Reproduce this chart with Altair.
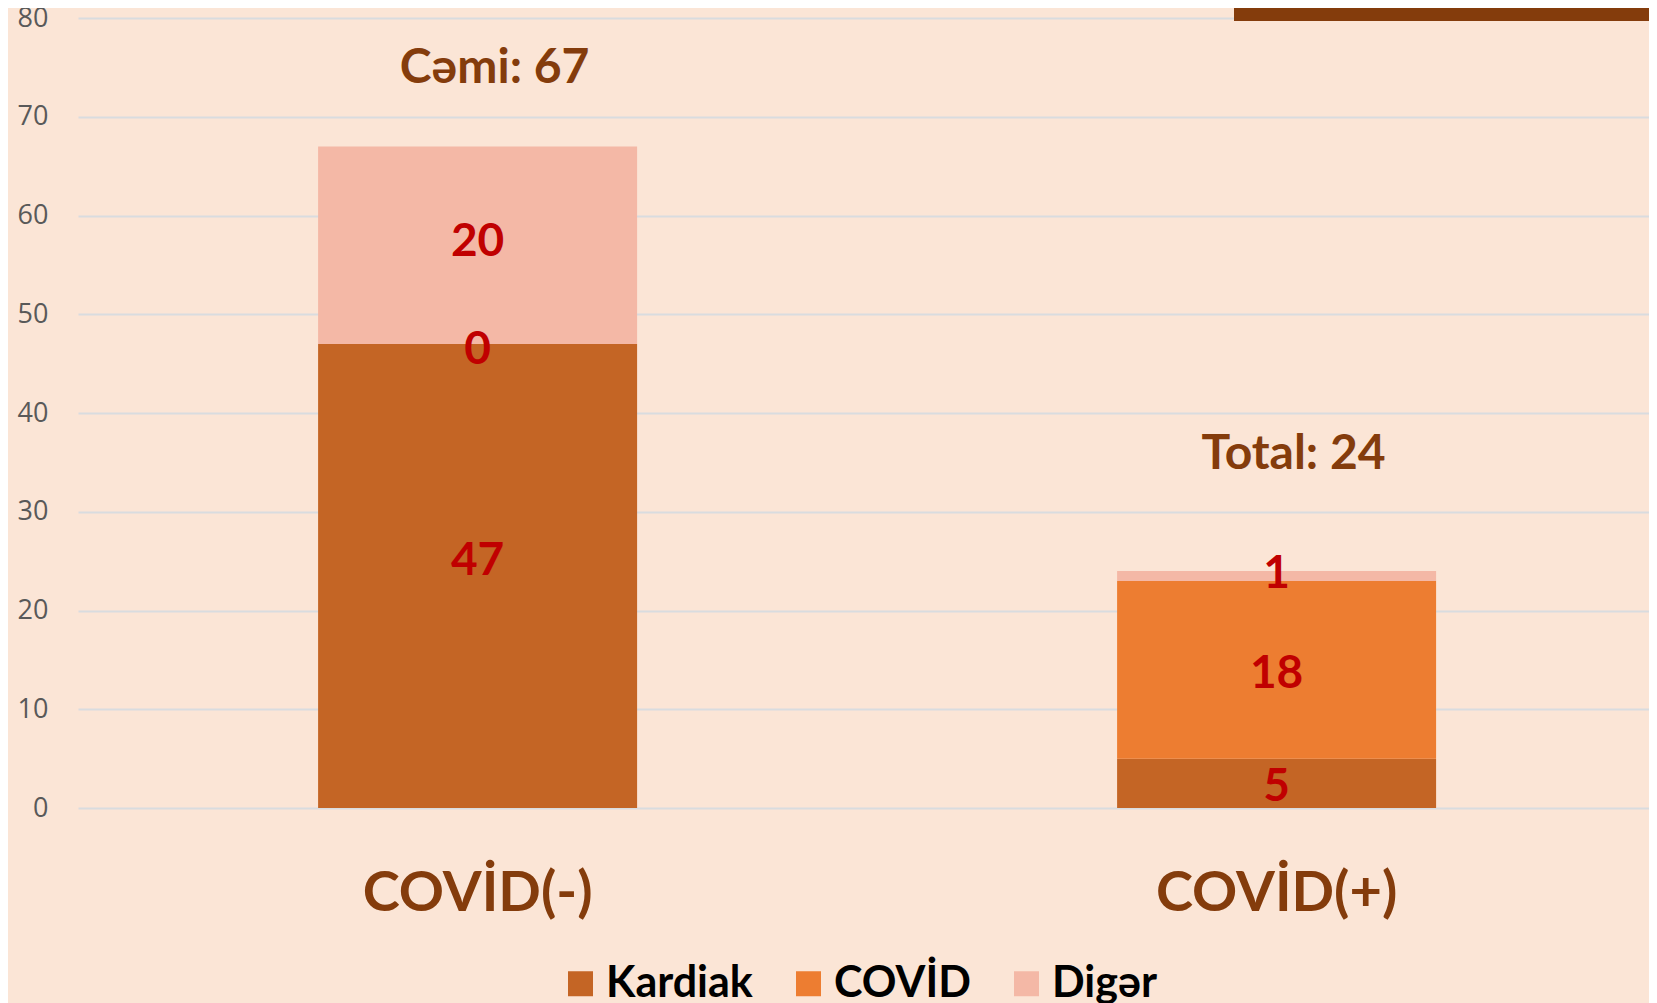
import altair as alt
import pandas as pd

categories = ["COVİD(-)", "COVİD(+)"]
series = ["Kardiak", "COVİD", "Digər"]
kardiak = [47, 5]
covid = [0, 18]
diger = [20, 1]
# label anchors (value units)
kardiak_label_y = [25.3, 2.4]
covid_label_y = [46.7, 13.9]
diger_label_y = [57.6, 24.0]
total_labels = ["Cəmi: 67", "Total: 24"]
total_label_y = [75.1, 36.1]

colors = ["#C46525", "#ED7D31", "#F4B8A6"]

rows = []
for i, c in enumerate(categories):
    for k, (s, vals, ly) in enumerate(zip(series, [kardiak, covid, diger],
                                           [kardiak_label_y, covid_label_y, diger_label_y])):
        v = vals[i]
        rows.append({"cat": c, "series": s, "value": v, "order": k,
                     "mid": ly[i], "label": str(v)})
df = pd.DataFrame(rows)
tot = pd.DataFrame({"cat": categories, "label": total_labels, "y": total_label_y})

xscale = alt.Scale(domain=categories, paddingInner=0.601, paddingOuter=0.2836, align=0.53)
yscale = alt.Scale(domain=[0, 80])

bars = alt.Chart(df).mark_bar(size=319).encode(
    x=alt.X("cat:N", scale=xscale, sort=categories,
            axis=alt.Axis(title=None, labelAngle=0, labelFont="Lato", labelFontSize=56,
                          labelFontWeight="bold", labelColor="#843C0C", ticks=False,
                          tickSize=0, domain=False, labelBaseline="alphabetic",
                          labelPadding=102, grid=False, labelLimit=0)),
    y=alt.Y("value:Q", stack="zero", scale=yscale,
            axis=alt.Axis(title=None, values=list(range(0, 81, 10)), labelFont="Open Sans",
                          labelFontSize=27, labelColor="#595959", ticks=False, tickSize=0,
                          domain=False, gridColor="#D9DCDF", gridWidth=2, labelPadding=30,
                          minExtent=70, maxExtent=70)),
    color=alt.Color("series:N", scale=alt.Scale(domain=series, range=colors),
                    legend=alt.Legend(title=None, orient="none", direction="horizontal",
                                      legendX=481, legendY=944, symbolType="square",
                                      symbolSize=625, symbolStrokeWidth=0, labelFont="Lato",
                                      labelFontSize=43, labelFontWeight="bold",
                                      labelColor="#000000", columnPadding=34,
                                      labelOffset=4, symbolOpacity=1, labelLimit=0)),
    order=alt.Order("order:Q"),
)

seg_text = alt.Chart(df).mark_text(font="Lato", fontSize=46, fontWeight="bold",
                                   color="#C00000", baseline="middle", dy=3).encode(
    x=alt.X("cat:N", scale=xscale, sort=categories),
    y=alt.Y("mid:Q", scale=yscale),
    text="label:N",
)

tot_text = alt.Chart(tot).mark_text(font="Lato", fontSize=48, fontWeight="bold",
                                    color="#843C0C", baseline="middle", dx=17, dy=3).encode(
    x=alt.X("cat:N", scale=xscale, sort=categories),
    y=alt.Y("y:Q", scale=yscale),
    text="label:N",
)

corner = alt.Chart(tot).mark_rect(color="#843C0C").encode(
    x=alt.value(1156), x2=alt.value(1571), y=alt.value(-10), y2=alt.value(3)
)

chart = alt.layer(bars, seg_text, tot_text, corner).properties(
    width=1571, height=790, background="#FBE5D6",
    autosize=alt.AutoSizeParams(type="none"),
    padding={"left": 70, "top": 10, "right": 0, "bottom": 195},
).configure_view(stroke=None)

chart.save("out.html", embed_options={"renderer": "svg", "actions": False})
